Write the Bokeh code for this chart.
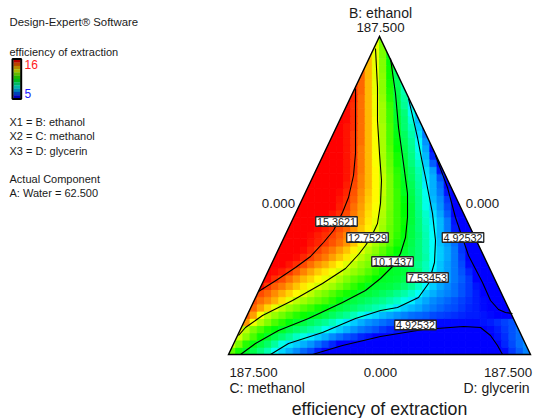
from bokeh.plotting import figure
from bokeh.models import Range1d
from bokeh.core.properties import value
from bokeh.embed import file_html
from bokeh.resources import INLINE
import numpy as np

# Response values, one row per list, bottom row first.
row_00 = [11.5,10.7,10.1,9.7,9.2,8.6,7.8,7.3,6.9,6.5,6.1,5.8,5.3,4.9,4.7,4.5,4.5,4.5,4.5,4.5,4.5,4.5,4.5,4.5,4.5,4.5,4.5,4.5,4.5,4.5,4.5,4.5,4.5,4.5,4.5,4.5,4.6,4.8,5.1,5.6,6.0,6.4]
row_01 = [12.7,11.8,10.9,10.3,9.8,9.4,8.8,8.0,7.5,7.2,6.9,6.6,6.2,5.8,5.4,4.9,4.7,4.7,4.7,4.7,4.7,4.7,4.7,4.7,4.7,4.7,4.7,4.7,4.7,4.7,4.7,4.7,4.7,4.7,4.7,4.7,4.7,5.0,5.4,5.8,6.2,6.5]
row_02 = [13.5,12.7,12.0,11.3,10.6,10.1,9.7,9.3,8.9,8.4,8.0,7.5,7.2,6.9,6.5,6.2,5.9,5.7,5.4,5.2,5.0,4.9,4.7,4.7,4.7,4.7,4.7,4.7,4.7,4.7,4.7,4.7,4.7,4.7,4.7,4.7,4.9,5.2,5.5,5.9,6.2,6.5]
row_03 = [13.6,12.5,11.8,11.3,10.8,10.4,10.1,9.7,9.4,9.1,8.8,8.5,7.9,7.5,7.2,6.9,6.6,6.3,6.1,5.9,5.6,5.4,5.2,5.1,5.0,5.0,4.9,4.8,4.8,4.8,4.8,4.8,4.8,4.9,4.9,5.1,5.3,5.6,5.9,6.2]
row_04 = [15.0,14.4,13.1,12.4,11.9,11.3,10.9,10.4,10.1,9.8,9.5,9.2,8.9,8.5,8.0,7.5,7.2,6.9,6.6,6.4,6.2,6.0,5.8,5.6,5.5,5.4,5.3,5.2,5.1,5.1,5.1,5.1,5.1,5.1,5.2,5.3,5.5,5.7,5.9,6.2]
row_05 = [15.0,14.3,13.2,12.5,12.1,11.7,11.3,10.9,10.6,10.3,10.1,9.8,9.5,9.2,8.9,8.5,8.0,7.5,7.3,7.0,6.8,6.6,6.4,6.2,6.1,6.0,5.8,5.7,5.6,5.5,5.4,5.3,5.3,5.2,5.1,5.0,5.0,5.0]
row_06 = [15.3,14.9,14.3,13.7,13.0,12.5,12.1,11.8,11.4,11.1,10.7,10.4,10.1,9.8,9.6,9.4,9.1,8.9,8.6,8.4,8.0,7.5,7.2,7.0,6.8,6.5,6.3,6.1,5.9,5.8,5.6,5.4,5.3,5.1,5.0,4.9,4.6,4.5]
row_07 = [15.2,14.8,14.5,14.1,13.6,13.0,12.5,12.2,11.9,11.6,11.3,10.9,10.4,10.0,9.8,9.6,9.4,9.2,9.0,8.7,8.4,8.0,7.6,7.1,6.8,6.5,6.3,6.1,5.9,5.7,5.5,5.3,5.1,4.9,4.6,4.5]
row_08 = [15.6,15.2,14.9,14.5,14.1,13.7,13.3,12.9,12.5,12.1,11.8,11.4,11.0,10.7,10.3,10.0,9.9,9.7,9.5,9.3,9.0,8.7,8.3,7.8,7.2,6.9,6.6,6.4,6.2,5.9,5.6,5.3,5.0,4.7,4.5,4.5]
row_09 = [15.9,15.4,15.0,14.7,14.3,13.9,13.5,13.1,12.8,12.5,12.2,11.8,11.4,11.0,10.6,10.2,10.0,9.9,9.8,9.6,9.3,8.9,8.4,7.7,7.2,6.8,6.5,6.2,5.9,5.6,5.2,4.9,4.7,4.5]
row_10 = [16.0,15.9,15.5,15.2,14.8,14.4,14.0,13.7,13.3,13.0,12.7,12.3,11.9,11.5,11.2,10.9,10.5,10.1,10.0,9.9,9.7,9.4,8.9,8.2,7.4,7.0,6.7,6.3,6.0,5.6,5.0,4.7,4.6,4.5]
row_11 = [16.0,15.9,15.7,15.4,15.0,14.6,14.2,13.8,13.5,13.1,12.8,12.4,12.1,11.8,11.4,11.0,10.6,10.1,10.0,9.9,9.6,9.2,8.5,7.6,7.1,6.7,6.3,5.9,5.4,4.8,4.7,4.6]
row_12 = [16.0,16.0,16.0,15.8,15.5,15.2,14.8,14.4,14.1,13.7,13.3,12.9,12.5,12.1,11.8,11.4,11.0,10.4,9.9,9.6,9.3,9.0,8.5,7.7,7.1,6.7,6.3,5.8,5.1,4.8,4.6,4.5]
row_13 = [16.0,16.0,16.0,15.9,15.6,15.3,15.0,14.7,14.3,13.9,13.5,13.0,12.5,12.1,11.7,11.3,10.8,10.3,9.9,9.6,9.2,8.7,7.8,7.2,6.8,6.3,5.7,4.9,4.7,4.6]
row_14 = [16.0,16.0,16.0,16.0,15.9,15.6,15.3,15.0,14.7,14.3,13.9,13.4,12.9,12.4,12.0,11.5,11.0,10.5,10.0,9.6,9.2,8.6,7.8,7.2,6.8,6.3,5.6,4.8,4.7,4.6]
row_15 = [16.0,16.0,16.0,16.0,15.8,15.6,15.4,15.1,14.8,14.4,13.9,13.3,12.8,12.3,11.9,11.4,10.8,10.2,9.7,9.2,8.6,7.8,7.1,6.7,6.2,5.6,5.0,4.7]
row_16 = [16.0,16.0,16.0,16.0,15.9,15.7,15.5,15.3,15.0,14.6,14.2,13.7,13.1,12.5,12.1,11.6,11.0,10.4,9.8,9.3,8.6,7.8,7.0,6.5,5.6,4.9,4.6,4.5]
row_17 = [16.0,16.0,16.0,16.0,15.9,15.7,15.5,15.2,14.9,14.4,13.9,13.4,12.8,12.2,11.6,11.1,10.5,9.8,9.2,8.5,7.7,7.0,6.3,5.3,4.7,4.6]
row_18 = [16.0,16.0,16.0,16.0,16.0,15.9,15.6,15.4,15.0,14.6,14.1,13.5,13.0,12.3,11.7,11.1,10.6,9.9,9.2,8.4,7.6,7.0,6.3,5.2,4.6,4.5]
row_19 = [16.0,16.0,16.0,16.0,16.0,15.8,15.5,15.2,14.7,14.2,13.6,13.1,12.4,11.7,11.1,10.5,9.9,9.1,8.3,7.4,6.8,6.0,5.0,4.6]
row_20 = [16.0,16.0,16.0,16.0,16.0,16.0,15.7,15.4,14.8,14.3,13.7,13.2,12.5,11.8,11.1,10.5,9.9,9.0,8.0,7.2,6.6,5.8,4.8,4.5]
row_21 = [16.0,16.0,16.0,16.0,16.0,15.8,15.5,15.0,14.4,13.8,13.3,12.5,11.8,11.1,10.4,9.8,9.0,8.0,7.0,6.5,5.6,4.7]
row_22 = [16.0,16.0,16.0,16.0,16.0,15.9,15.6,15.1,14.5,13.9,13.3,12.6,11.8,11.1,10.2,9.7,8.9,7.9,6.9,6.3,5.2,4.6]
row_23 = [16.0,16.0,16.0,16.0,16.0,16.0,15.7,15.2,14.6,14.0,13.3,12.6,11.8,11.0,10.2,9.6,8.8,7.6,6.9,6.2,4.9,4.6]
row_24 = [16.0,16.0,16.0,16.0,16.0,15.8,15.3,14.6,14.0,13.3,12.6,11.8,11.0,10.1,9.5,8.7,7.5,6.9,5.9,4.8]
row_25 = [16.0,16.0,16.0,16.0,16.0,15.8,15.4,14.7,14.0,13.3,12.5,11.7,10.9,10.0,9.4,8.6,7.4,6.7,5.2,4.7]
row_26 = [16.0,16.0,16.0,16.0,15.8,15.4,14.7,14.0,13.2,12.4,11.6,10.7,9.9,9.2,8.4,7.2,6.0,4.9]
row_27 = [16.0,16.0,16.0,16.0,15.8,15.4,14.7,14.0,13.2,12.3,11.5,10.7,9.8,9.1,8.1,7.0,5.4,4.8]
row_28 = [16.0,16.0,16.0,15.8,15.4,14.7,14.0,13.2,12.3,11.4,10.5,9.7,9.0,7.9,6.8,5.1]
row_29 = [16.0,16.0,16.0,15.8,15.4,14.8,14.0,13.2,12.3,11.3,10.4,9.6,8.9,7.7,6.6,5.3]
row_30 = [16.0,16.0,15.8,15.4,14.8,14.0,13.2,12.3,11.3,10.3,9.5,8.7,7.4,6.3]
row_31 = [16.0,16.0,15.8,15.5,14.8,14.0,13.2,12.3,11.3,10.2,9.3,8.5,7.2,6.0]
row_32 = [16.0,15.9,15.5,14.8,14.0,13.2,12.2,11.2,10.1,9.3,8.2,7.0]
row_33 = [16.0,15.9,15.5,14.8,14.0,13.1,12.2,11.2,10.0,9.2,7.9,6.9]
row_34 = [15.9,15.5,14.8,14.0,13.1,12.2,11.1,9.9,8.9,7.6]
row_35 = [16.0,15.6,14.8,14.0,13.1,12.1,10.9,9.8,8.8,7.4]
row_36 = [15.5,14.9,14.0,13.0,12.0,10.8,9.7,8.6]
row_37 = [15.4,14.9,14.0,13.0,12.0,10.7,9.6,8.5]
row_38 = [14.9,14.0,13.0,12.0,10.6,9.5]
row_39 = [14.9,14.0,13.0,11.9,10.6,9.4]
row_40 = [14.0,13.0,11.9,10.4]
row_41 = [13.9,13.0,11.8,10.3]
row_42 = [13.0,11.8]
row_43 = [13.0,11.8]

# Contours, in the plane of the ternary plot (horizontal, vertical).
c15_x = [127,127,127,125,120,114,105,95,82,67,49,30]
c15_y = [266,234,201,179,157,142,124,112,98,87,75,63]
c12_x = [147,149,149,151,153,152,149,143,137,130,117,94,64,34,17,10]
c12_y = [306,267,234,201,174,151,131,118,109,100,86,71,54,39,27,19]
c10_x = [162,167,170,175,179,179,177,172,165,152,137,114,80,50,27,12]
c10_y = [296,261,227,191,161,137,117,101,89,76,64,52,36,24,11,0]
c7_x = [180,189,193,197,204,207,206,200,190,169,152,127,94,60,42]
c7_y = [256,217,196,177,141,114,92,71,57,47,44,36,22,11,0]
c4a_x = [207,219,227,240,254,262,270,277,284]
c4a_y = [199,167,137,99,72,54,45,42,41]
c4b_x = [84,114,152,195,235,252,262,269,274]
c4b_y = [0,9,18,25,28,27,19,9,0]

contour_labels = ["15.3621","12.7529","10.1437","7.53453","4.92532","4.92532"]
legend_lines = ["Design-Expert\u00ae Software","efficiency of extraction","X1 = B: ethanol","X2 = C: methanol",
                "X3 = D: glycerin","Actual Component","A: Water = 62.500"]
legend_levels = [16,15,14,13,12,11,10,9,8,7,6,5]

rows = [row_00,row_01,row_02,row_03,row_04,row_05,row_06,row_07,row_08,row_09,row_10,
        row_11,row_12,row_13,row_14,row_15,row_16,row_17,row_18,row_19,row_20,row_21,
        row_22,row_23,row_24,row_25,row_26,row_27,row_28,row_29,row_30,row_31,row_32,
        row_33,row_34,row_35,row_36,row_37,row_38,row_39,row_40,row_41,row_42,row_43]

W, H = 302.0, 318.0
NX, NY = 42, 44
DX, DY = W/NX, H/NY

def colour(v, dark=1.0):
    anchors = [(0,0,255),(0,255,255),(0,255,0),(255,255,0),(255,0,0)]
    t = min(max((v-5.0)/11.0,0.0),1.0)*4
    k = min(int(t),3); f = t-k
    c = [(anchors[k][n]*(1-f)+anchors[k+1][n]*f)*dark for n in range(3)]
    return "#%02x%02x%02x" % tuple(int(round(a)) for a in c)

p = figure(width=535, height=418, output_backend="svg", toolbar_location=None,
           x_range=Range1d(-228,307), y_range=Range1d(-64,354),
           x_axis_type=None, y_axis_type=None, min_border=0,
           outline_line_color=None, background_fill_color="white", border_fill_color="white")
p.grid.visible = False

left,right,bottom,top,cols = [],[],[],[],[]
for j,row in enumerate(rows):
    i0 = (NX-len(row))//2
    for k,val in enumerate(row):
        left.append((i0+k)*DX); right.append((i0+k+1)*DX)
        bottom.append(j*DY); top.append((j+1)*DY)
        cols.append(colour(val))
p.quad(left=left,right=right,bottom=bottom,top=top,fill_color=cols,line_color=cols,line_width=0.9)

# white masks: the plot's region is the triangle only
p.patch([-14,0,W/2,W/2,-14],[0,0,H,H+14,H+14],fill_color="white",line_color="white",line_width=0)
p.patch([W+5,W,W/2,W/2,W+5],[0,0,H,H+14,H+14],fill_color="white",line_color="white",line_width=0)
p.quad(left=[-14],right=[W+5],bottom=[-10],top=[-0.5],fill_color="white",line_color=None)

for cx,cy in [(c15_x,c15_y),(c12_x,c12_y),(c10_x,c10_y),(c7_x,c7_y),(c4a_x,c4a_y),(c4b_x,c4b_y)]:
    p.line(cx,cy,line_color="black",line_width=1.1,line_join="round")

p.patch([0,W,W/2],[0,0,H],fill_color=None,line_color="black",line_width=1.4,line_join="miter")

# contour labels
lab_x = [108,139,164,199,234.5,187]
lab_y = [133,117,93,77,117,29.5]
p.rect(lab_x,lab_y,width=[41.5]*6,height=[9.5]*6,fill_color="white",line_color="#222222",line_width=1.3)
p.text(lab_x,[y-0.2 for y in lab_y],text=contour_labels,text_font=value("Liberation Sans"),text_font_size="10.8px",
       text_align="center",text_baseline="middle",text_color="#222222")

# legend colour bar
bar_n = len(legend_levels)
bar_t, bar_b = 354-59.0, 354-98.0
bstep = (bar_t-bar_b)/bar_n
bar_cols = [colour(v,0.72) for v in legend_levels]
p.quad(left=[13-228]*bar_n,right=[20-228]*bar_n,
       top=[bar_t-n*bstep for n in range(bar_n)],bottom=[bar_t-(n+1)*bstep for n in range(bar_n)],
       fill_color=bar_cols,line_color=bar_cols,line_width=0.3)
p.quad(left=[12-228],right=[20.7-228],top=[354-58.5],bottom=[354-98.5],fill_color=None,line_color="black",line_width=2)

def txt(x,y,s,size,align="left",colour_="#1a1a1a"):
    p.text([x-228],[354-y],text=[s],text_font=value("Liberation Sans"),text_font_size=size,
           text_align=align,text_baseline="middle",text_color=colour_)

txt(24,64,"16","12px",colour_="#ff2020")
txt(24,93,"5","12px",colour_="#2020ff")
sizes = ["11.4px","11px","11px","11px","11px","11px","11px"]
for s,y,sz in zip(legend_lines,[21.5,51,121,135,150,178,192],sizes):
    txt(9,y,s,sz)

txt(380,12,"B: ethanol","14px","center")
txt(380,27,"187.500","13.3px","center")
txt(278,203,"0.000","13.3px","center")
txt(482,203,"0.000","13.3px","center")
txt(253,372,"187.500","13.3px","center")
txt(380,372,"0.000","13.3px","center")
txt(507.5,372,"187.500","13.3px","center")
txt(229,387,"C: methanol","14px")
txt(463,387,"D: glycerin","14px")
txt(379,408,"efficiency of extraction","17.8px","center")

open("out.html","w").write(file_html(p,INLINE))
